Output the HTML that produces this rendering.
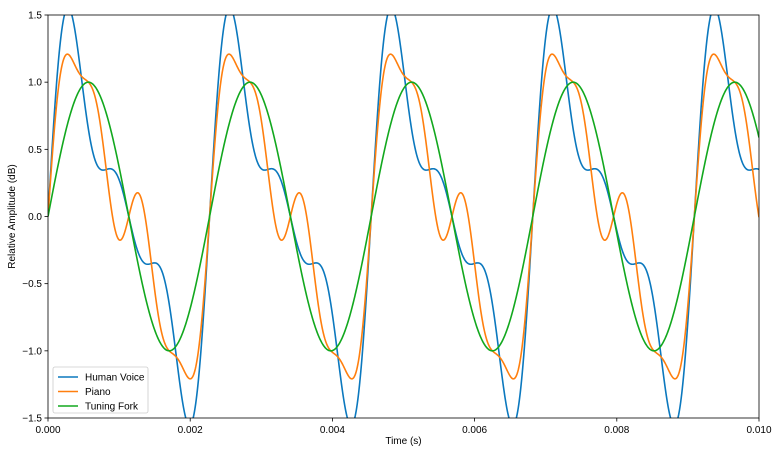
<!DOCTYPE html>
<html><head><meta charset="utf-8"><style>
body{margin:0;background:#fff;font-family:"Liberation Sans",sans-serif;}
svg text{font-family:"Liberation Sans",sans-serif;font-size:10px;fill:#000;}
</style></head><body>
<svg id="chart" width="777" height="453"></svg>
<script>
const xTicks=[0,0.002,0.004,0.006,0.008,0.010];
const xTickLabels=["0.000","0.002","0.004","0.006","0.008","0.010"];
const yTicks=[-1.5,-1.0,-0.5,0,0.5,1.0,1.5];
const yTickLabels=["−1.5","−1.0","−0.5","0.0","0.5","1.0","1.5"];
const seriesNames=["Human Voice","Piano","Tuning Fork"];
const seriesColors=["#0b78be","#ff7f0e","#12a81e"];
const fundamentalHz=440;
const voiceHarmonics=[1,0.6,0.35];
const pianoHarmonics=[1,0.5,0,0.2];
const forkHarmonics=[1];
const allHarmonics=[voiceHarmonics,pianoHarmonics,forkHarmonics];

const L=48,R=759,T=15,B=418;
const xS=v=>L+(v-0)/(0.010)*(R-L);
const yS=v=>B-(v+1.5)/3*(B-T);
const NS="http://www.w3.org/2000/svg";
const svg=document.getElementById('chart');
function mk(tag,attrs,parent){const e=document.createElementNS(NS,tag);for(const k in attrs)e.setAttribute(k,attrs[k]);(parent||svg).appendChild(e);return e;}

const defs=mk('defs',{});
const cp=mk('clipPath',{id:'clip'},defs);
mk('rect',{x:L,y:T,width:R-L,height:B-T},cp);

const lines=mk('g',{'clip-path':'url(#clip)'});


allHarmonics.forEach((h,si)=>{
  let d='';
  const N=1400;
  for(let i=0;i<=N;i++){
    const t=0.010*i/N;
    const th=2*Math.PI*fundamentalHz*t;
    let v=0;h.forEach((a,k)=>{v+=a*Math.sin((k+1)*th);});
    d+=(i?'L':'M')+xS(t).toFixed(2)+','+yS(v).toFixed(2);
  }
  const p=mk('path',{d:d,fill:'none',stroke:seriesColors[si],'stroke-width':1.6},lines);
  
  
});

const frame=mk('rect',{x:L,y:T,width:R-L,height:B-T,fill:'none',stroke:'#000','stroke-width':0.8});



xTicks.forEach((v,i)=>{
  const x=xS(v);
  mk('line',{x1:x,x2:x,y1:B,y2:B+3.5,stroke:'#000','stroke-width':0.8});
  const t=mk('text',{x:x,y:B+15,'text-anchor':'middle'});t.textContent=xTickLabels[i];
  
  
});
yTicks.forEach((v,i)=>{
  const y=yS(v);
  mk('line',{x1:L-3.5,x2:L,y1:y,y2:y,stroke:'#000','stroke-width':0.8});
  const t=mk('text',{x:L-6,y:y+3.5,'text-anchor':'end'});t.textContent=yTickLabels[i];
  
  
});
const xl=mk('text',{x:(L+R)/2,y:444,'text-anchor':'middle'});xl.textContent='Time (s)';


const yl=mk('text',{x:15,y:(T+B)/2,'text-anchor':'middle',transform:'rotate(-90 15 '+((T+B)/2)+')'});yl.textContent='Relative Amplitude (dB)';



const lg=mk('g',{});


mk('rect',{x:53,y:367,width:95,height:46,rx:2,fill:'#fff',stroke:'#ccc','stroke-width':0.8,'fill-opacity':0.8},lg);
seriesNames.forEach((n,i)=>{
  const y=377+i*14.5;
  const g=mk('g',{},lg);
  
  
  mk('line',{x1:58,x2:78,y1:y,y2:y,stroke:seriesColors[i],'stroke-width':1.6},g);
  const t=mk('text',{x:85,y:y+3.5},g);t.textContent=n;
});
</script>
</body></html>
